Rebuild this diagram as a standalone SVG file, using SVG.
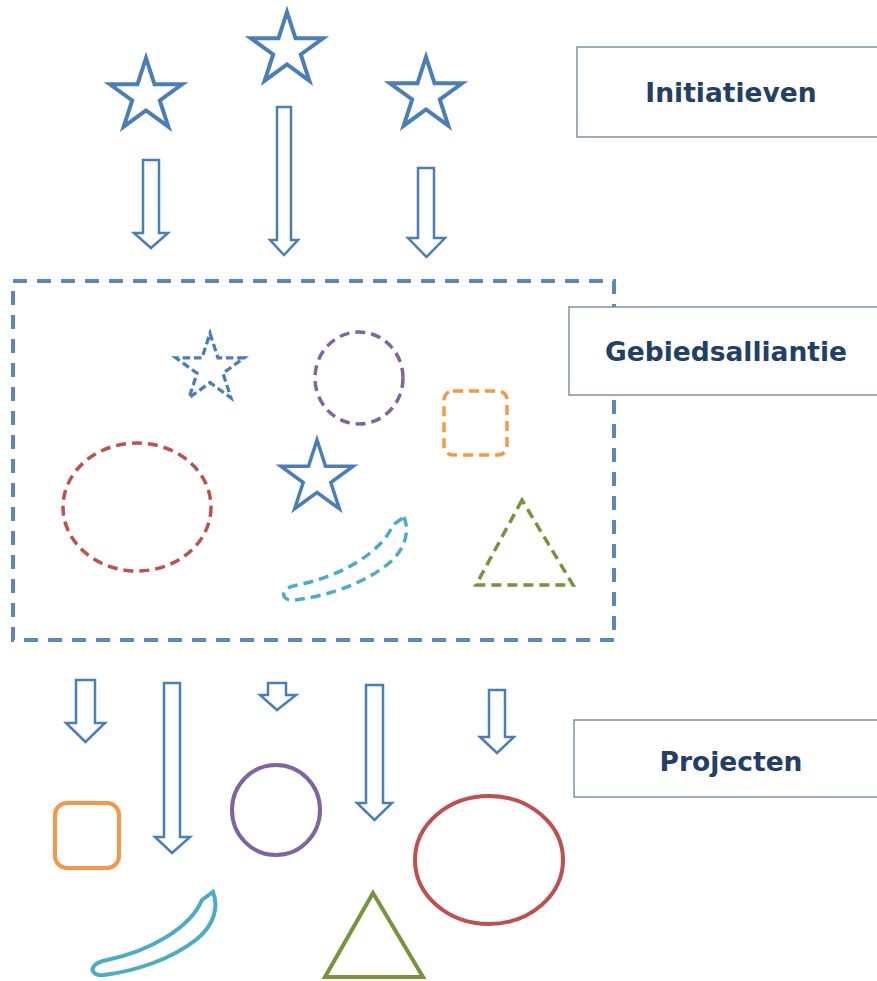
<svg xmlns="http://www.w3.org/2000/svg" xmlns:xlink="http://www.w3.org/1999/xlink" width="877" height="981" viewBox="0 0 877 981">
  <style>
    .star { fill: #ffffff; stroke: #4a7ebb; stroke-width: 4; stroke-linejoin: miter; }
    .arrow { fill: #ffffff; stroke: #4a7ebb; stroke-width: 2.5; stroke-linejoin: miter; }
    .zone { fill: none; stroke: #5b87bd; stroke-width: 4; stroke-dasharray: 14 10; }
    .label-box { fill: #ffffff; stroke: #7f93a6; stroke-width: 1.5; }
    .label { font-family: "DejaVu Sans", Verdana, sans-serif; font-weight: bold; font-size: 26.5px; fill: #233f66; text-anchor: middle; }
    .dash { fill: none; stroke-width: 3.5; stroke-dasharray: 10 6; }
    .solid { fill: none; stroke-width: 4; }
    .red { stroke: #c0504d; }
    .purple { stroke: #8064a2; }
    .orange { stroke: #f79646; }
    .green { stroke: #77933c; }
    .cyan { stroke: #4bacc6; }
  </style>
  <defs>
    <!-- five-pointed star, outer radius 38 -->
    <polygon id="star5" points="0,-38 8.52,-11.73 36.14,-11.74 13.79,4.48 22.34,30.74 0,14.5 -22.34,30.74 -13.79,4.48 -36.14,-11.74 -8.52,-11.73"/>
    <!-- curved crescent band -->
    <path id="crescent" d="M213,892 C219,907 214,925 197,939 C172,959 136,971 104,975 C95,976 90,971 94,966 C97,962 102,961 107,960 C150,951 190,928 202,900 Z"/>
  </defs>

  <rect width="877" height="981" fill="#ffffff"/>

  <!-- initiative stars -->
  <g id="initiative-stars">
    <use xlink:href="#star5" class="star" transform="translate(146,96)"/>
    <use xlink:href="#star5" class="star" transform="translate(287,50)"/>
    <use xlink:href="#star5" class="star" transform="translate(426,95)"/>
  </g>

  <!-- alliance zone -->
  <g id="alliance-zone">
    <rect class="zone" x="13" y="281" width="601" height="359"/>
  </g>

  <!-- labels -->
  <g id="label-initiatieven">
    <rect class="label-box" x="577" y="47" width="330" height="90"/>
    <text class="label" x="731" y="102">Initiatieven</text>
  </g>
  <g id="label-gebiedsalliantie">
    <rect class="label-box" x="569" y="307" width="330" height="88"/>
    <text class="label" x="726" y="361">Gebiedsalliantie</text>
  </g>
  <g id="label-projecten">
    <rect class="label-box" x="574" y="720" width="330" height="77"/>
    <text class="label" x="731" y="771">Projecten</text>
  </g>

  <!-- shapes inside the alliance zone -->
  <g id="zone-shapes">
    <use xlink:href="#star5" class="star" style="stroke-width:3.5;stroke-dasharray:8 4" transform="translate(210,369) scale(0.94)"/>
    <ellipse class="dash purple" cx="359" cy="378" rx="44" ry="46"/>
    <rect class="dash orange" x="444" y="391" width="63" height="64" rx="9"/>
    <ellipse class="dash red" cx="137" cy="507" rx="74" ry="64"/>
    <use xlink:href="#star5" class="star" style="stroke-width:3.5" transform="translate(317,478)"/>
    <use xlink:href="#crescent" class="dash cyan" transform="translate(191,-375)"/>
    <polygon class="dash green" points="522,500 476,585 573,585"/>
  </g>

  <!-- project shapes -->
  <g id="project-shapes">
    <rect class="solid orange" x="55" y="803" width="64" height="65" rx="12"/>
    <ellipse class="solid purple" cx="276" cy="810" rx="44" ry="45"/>
    <ellipse class="solid red" cx="489" cy="860" rx="74" ry="64"/>
    <polygon class="solid green" points="373,893 325,977 423,977"/>
    <use xlink:href="#crescent" class="solid cyan"/>
  </g>

  <!-- block arrows -->
  <g id="connectors">
    <polygon class="arrow" points="143,160 159,160 159,233 168,233 151,248 134,233 143,233"/>
    <polygon class="arrow" points="277,107 291,107 291,240 298,240 284,255 270,240 277,240"/>
    <polygon class="arrow" points="418,168 434,168 434,238 445,238 426.5,257 408,238 418,238"/>

    <polygon class="arrow" points="76,680 95,680 95,723 105,723 85.5,742 66,723 76,723"/>
    <polygon class="arrow" points="164,683 180,683 180,837 190,837 172,853 155,837 164,837"/>
    <polygon class="arrow" points="268,683 286,683 286,695 296,695 277,710 260,695 268,695"/>
    <polygon class="arrow" points="366,685 383,685 383,803 392,803 374.5,820 357,803 366,803"/>
    <polygon class="arrow" points="489,690 505,690 505,737 514,737 497,753 480,737 489,737"/>
  </g>
</svg>
